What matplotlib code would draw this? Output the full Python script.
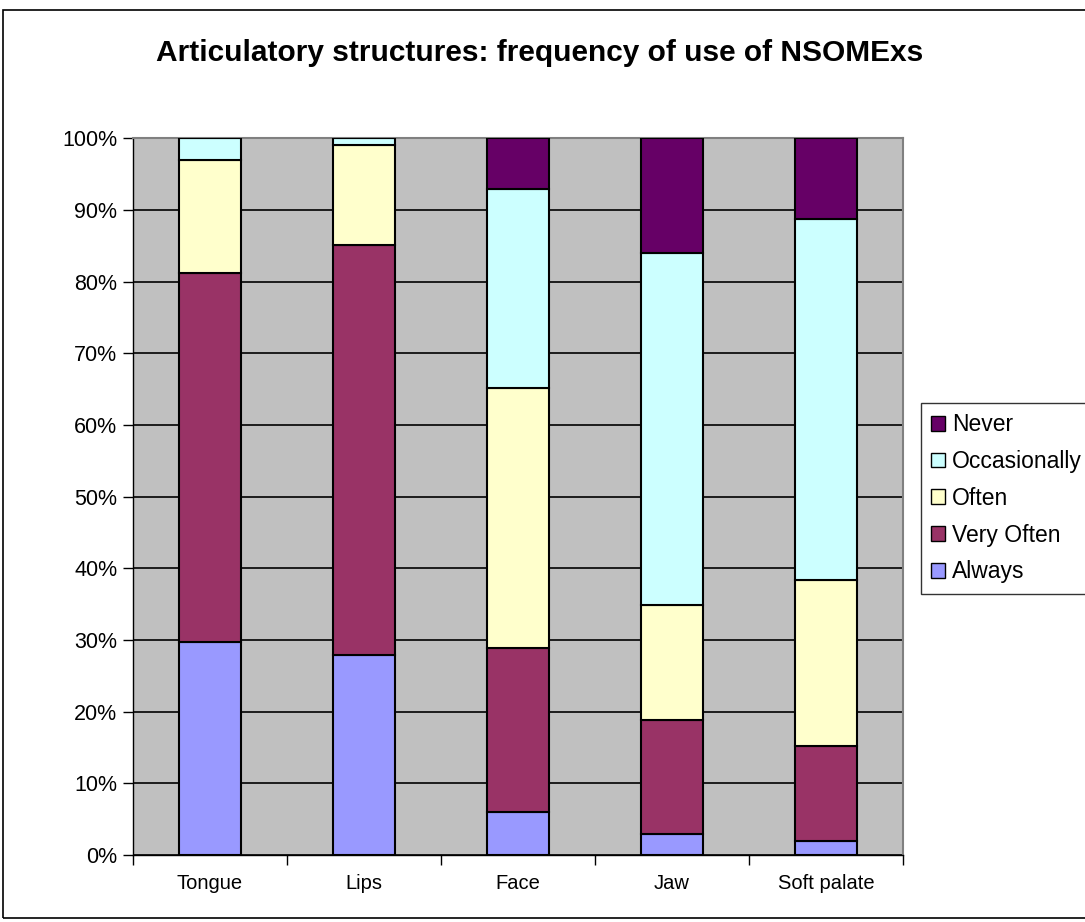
import numpy as np
import matplotlib
matplotlib.use("Agg")
import matplotlib.pyplot as plt
from matplotlib.patches import Rectangle, Patch
from matplotlib.ticker import PercentFormatter, MultipleLocator

plt.rcParams["font.family"] = ["Liberation Sans", "DejaVu Sans"]

categories = ["Tongue", "Lips", "Face", "Jaw", "Soft palate"]
series_names = ["Always", "Very Often", "Often", "Occasionally", "Never"]
always = [29.7, 27.9, 6.0, 2.9, 2.0]
very_often = [51.5, 57.2, 22.9, 16.0, 13.2]
often = [15.8, 13.9, 36.3, 16.0, 23.2]
occasionally = [3.0, 1.0, 27.7, 49.1, 50.3]
never = [0.0, 0.0, 7.1, 16.0, 11.3]
colors = ["#9999FF", "#993366", "#FFFFCC", "#CCFFFF", "#660066"]

W, H = 1085, 922
fig = plt.figure(figsize=(W / 100, H / 100), dpi=100)
ax = fig.add_axes([132.7 / W, 1 - 855 / H, (903 - 132.7) / W, (855 - 138.3) / H])
ax.set_facecolor("#C0C0C0")

x = np.arange(len(categories))
bottom = np.zeros(len(categories))
for vals, name, c in zip([always, very_often, often, occasionally, never], series_names, colors):
    vals = np.array(vals)
    ax.bar(x, vals, 0.4, bottom=bottom, color=c, edgecolor="black", linewidth=1.5,
           label=name, zorder=3)
    bottom += vals

ax.set_xlim(-0.5, len(categories) - 0.5)
ax.set_ylim(0, 100)
ax.yaxis.set_major_locator(MultipleLocator(10))
ax.yaxis.set_major_formatter(PercentFormatter(decimals=0))
ax.grid(axis="y", color="black", linewidth=1.2, zorder=1)
ax.set_xticks(x, categories)
ax.set_xticks(np.arange(-0.5, len(categories)), minor=True)
ax.tick_params(axis="x", which="major", length=0, pad=14, labelsize=14.5)
ax.tick_params(axis="x", which="minor", length=7, width=1)
ax.tick_params(axis="y", length=7, width=1, labelsize=15.5, pad=4)
for s in ["left", "bottom"]:
    ax.spines[s].set_color("black")
    ax.spines[s].set_linewidth(1)
for s in ["top", "right"]:
    ax.spines[s].set_color("#808080")
    ax.spines[s].set_linewidth(1.5)

fig.text(540 / W, 1 - 53 / H,
         "Articulatory structures: frequency of use of NSOMExs",
         ha="center", va="center", fontsize=21.5, fontweight="bold")

handles = [Patch(facecolor=c, edgecolor="black", label=n)
           for c, n in zip(colors[::-1], series_names[::-1])]
leg = fig.legend(handles=handles, loc="upper left",
                 bbox_to_anchor=(921 / W, 1 - 403 / H), frameon=True, fancybox=False,
                 fontsize=16.5, handlelength=0.6, handleheight=0.6, handletextpad=0.3,
                 labelspacing=0.6, borderpad=0.45, borderaxespad=0)
leg.get_frame().set_edgecolor("black")
leg.get_frame().set_linewidth(1)

fig.patches.append(Rectangle((3 / W, 4 / H), 1.0, 1 - 14 / H, transform=fig.transFigure,
                             fill=False, edgecolor="black", linewidth=1.2))

fig.savefig("out.png", dpi=100)
